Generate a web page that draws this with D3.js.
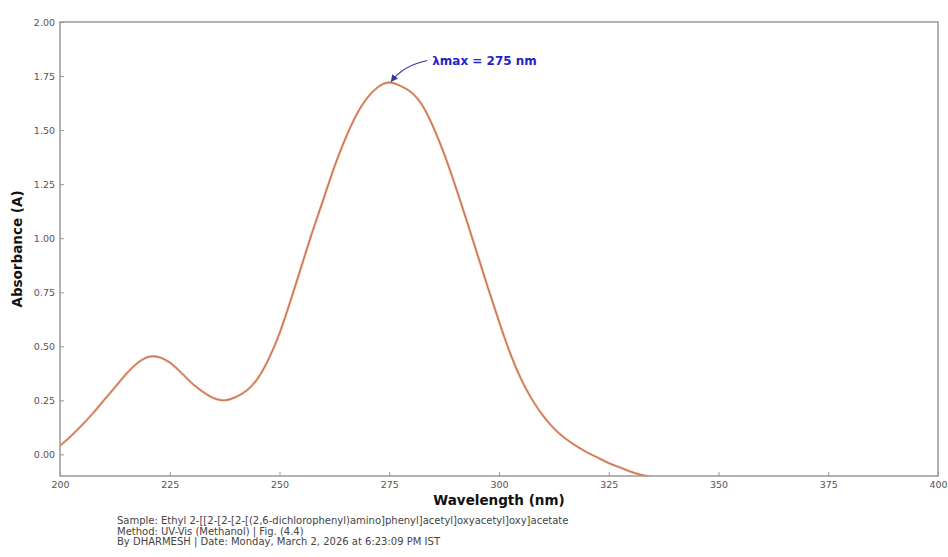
<!DOCTYPE html>
<html>
<head>
<meta charset="UTF-8">
<title>UV-Vis spectrum</title>
<script src="https://cdn.jsdelivr.net/npm/d3@7"></script>
<style type="text/css">
body, html {
    margin: 0;
    background: #fff;
}
.axis text {
    font: 9.5px "DejaVu Sans", sans-serif;
    fill: #555;
}
.axis path, .axis line {
    stroke: #999;
}
.lbl {
    font: bold 13.5px "DejaVu Sans", sans-serif;
    fill: #111;
}
.foot {
    font: 10px "DejaVu Sans", sans-serif;
    fill: #444;
}
</style>
</head>
<body>
<div class="chart"></div>
<script type="text/javascript">
// wavelength (nm) and absorbance
var wavelength = [200, 202.5, 205, 207.5, 210, 212.5, 215, 217.5, 220, 222.5,
    225, 227.5, 230, 232.5, 235, 237.5, 240, 242.5, 245, 247.5,
    250, 252.5, 255, 257.5, 260, 262.5, 265, 267.5, 270, 272.5,
    275, 277.5, 280, 282.5, 285, 287.5, 290, 292.5, 295, 297.5,
    300, 302.5, 305, 307.5, 310, 312.5, 315, 317.5, 320, 322.5,
    325, 327.5, 330, 332.5, 335, 340];
var absorbance = [0.04, 0.085, 0.135, 0.19, 0.25, 0.31, 0.37, 0.42, 0.45, 0.45,
    0.425, 0.38, 0.33, 0.29, 0.26, 0.25, 0.265, 0.295, 0.35, 0.44,
    0.56, 0.71, 0.87, 1.03, 1.18, 1.33, 1.46, 1.57, 1.65, 1.70,
    1.72, 1.705, 1.675, 1.615, 1.515, 1.39, 1.245, 1.09, 0.93, 0.77,
    0.615, 0.47, 0.35, 0.255, 0.18, 0.12, 0.075, 0.04, 0.01, -0.015,
    -0.04, -0.06, -0.08, -0.095, -0.105, -0.12];
var xTicks = [200, 225, 250, 275, 300, 325, 350, 375, 400];
var yTicks = [0.00, 0.25, 0.50, 0.75, 1.00, 1.25, 1.50, 1.75, 2.00];
var peak = {nm: 275, a: 1.72, label: "\u03bbmax = 275 nm"};
var footer = [
    "Sample: Ethyl 2-[[2-[2-[2-[(2,6-dichlorophenyl)amino]phenyl]acetyl]oxyacetyl]oxy]acetate",
    "Method: UV-Vis (Methanol) | Fig. (4.4)",
    "By DHARMESH | Date: Monday, March 2, 2026 at 6:23:09 PM IST"
];

var margin = {top: 22, right: 10, bottom: 81, left: 60},
    width  = 948 - margin.left - margin.right,
    height = 557 - margin.top - margin.bottom;

var x = d3.scaleLinear().domain([200, 400]).range([0, width]),
    y = d3.scaleLinear().domain([-0.1, 2.0]).range([height, 0]);

var svg = d3.select(".chart")
    .append("svg")
    .attr("width", 948)
    .attr("height", 557)
    .append("g")
    .attr("transform", "translate(" + margin.left + "," + margin.top + ")");

svg.append("clipPath").attr("id", "clip")
    .append("rect").attr("width", width).attr("height", height);

var data = wavelength.map(function (d, i) { return {nm: d, a: absorbance[i]}; });

var line = d3.line()
    .x(function (d) { return x(d.nm); })
    .y(function (d) { return y(d.a); })
    .curve(d3.curveNatural);

svg.append("path")
    .datum(data)
    .attr("clip-path", "url(#clip)")
    .attr("fill", "none")
    .attr("stroke", "#e6a685")
    .attr("stroke-width", 2.4)
    .attr("d", line);
svg.append("path")
    .datum(data)
    .attr("clip-path", "url(#clip)")
    .attr("fill", "none")
    .attr("stroke", "#c46c4c")
    .attr("stroke-width", 1)
    .attr("d", line);

// frame
svg.append("rect")
    .attr("width", width)
    .attr("height", height)
    .attr("fill", "none")
    .attr("stroke", "#999")
    .attr("stroke-width", 1.5);

svg.append("g")
    .attr("class", "x axis")
    .attr("transform", "translate(0," + height + ")")
    .call(d3.axisBottom(x).tickValues(xTicks).tickSizeInner(-4).tickSizeOuter(0).tickPadding(5))
    .call(function (g) { g.select(".domain").remove(); });

svg.append("g")
    .attr("class", "y axis")
    .call(d3.axisLeft(y).tickValues(yTicks).tickFormat(d3.format(".2f")).tickSizeInner(-4).tickSizeOuter(0).tickPadding(5))
    .call(function (g) { g.select(".domain").remove(); });

// axis labels
svg.append("text")
    .attr("class", "lbl")
    .attr("x", width / 2)
    .attr("y", height + 29)
    .attr("text-anchor", "middle")
    .text("Wavelength (nm)");

svg.append("text")
    .attr("class", "lbl")
    .attr("transform", "rotate(-90)")
    .attr("x", -height / 2)
    .attr("y", -38)
    .attr("text-anchor", "middle")
    .text("Absorbance (A)");

// peak annotation
svg.append("defs").append("marker")
    .attr("id", "arrow")
    .attr("viewBox", "0 0 10 10")
    .attr("refX", 9).attr("refY", 5)
    .attr("markerWidth", 6).attr("markerHeight", 6)
    .attr("orient", "auto")
    .append("path")
    .attr("d", "M0,0 L10,5 L0,10 z")
    .attr("fill", "#3535a0");

var px = x(peak.nm), py = y(peak.a);
svg.append("path")
    .attr("d", "M" + (px + 38) + "," + (py - 22) + " Q" + (px + 14) + "," + (py - 17) + " " + (px + 2) + "," + (py - 1))
    .attr("fill", "none")
    .attr("stroke", "#3535a0")
    .attr("stroke-width", 1.2)
    .attr("marker-end", "url(#arrow)");

svg.append("text")
    .attr("x", px + 43)
    .attr("y", py - 18)
    .attr("font-family", "DejaVu Sans, sans-serif")
    .attr("font-size", "12px")
    .attr("font-weight", "bold")
    .attr("fill", "#2424c8")
    .text(peak.label);

// footer
svg.selectAll(".foot")
    .data(footer)
    .enter()
    .append("text")
    .attr("class", "foot")
    .attr("x", 57)
    .attr("y", function (d, i) { return height + 48 + i * 10.5; })
    .text(function (d) { return d; });
</script>
</body>
</html>
